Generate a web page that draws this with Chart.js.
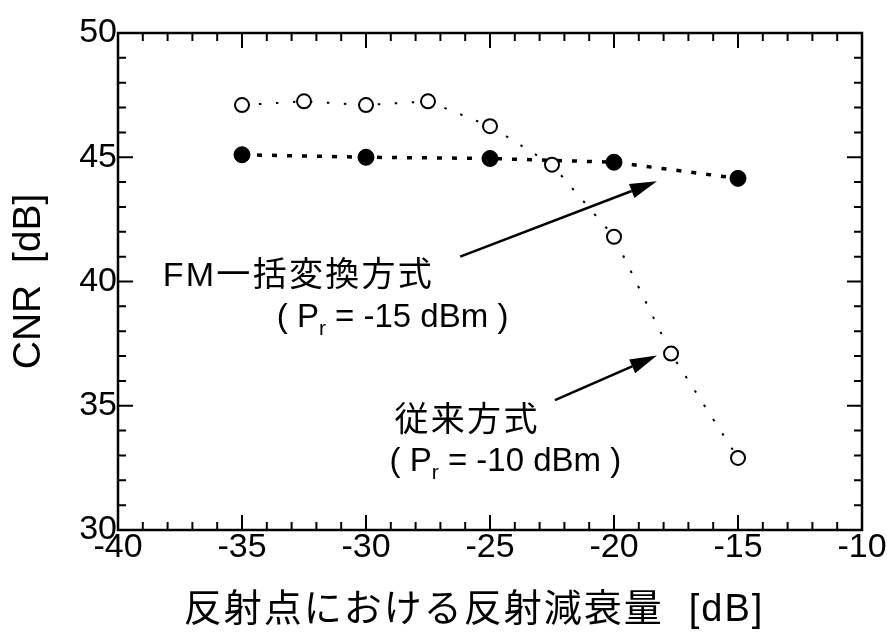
<!DOCTYPE html>
<html>
<head>
<meta charset="utf-8">
<script src="https://cdn.jsdelivr.net/npm/chart.js@4.4.0/dist/chart.umd.min.js"></script>
<style>
  html, body { margin: 0; padding: 0; background: #fff; }
  #wrap { width: 887px; height: 635px; }
</style>
</head>
<body>
<div id="wrap"><canvas id="cnrChart"></canvas></div>
<script>
// Reflection attenuation [dB] vs CNR [dB]
const conventionalX = [-35, -32.5, -30, -27.5, -25, -22.5, -20, -17.7, -15];
const conventionalY = [47.1, 47.25, 47.1, 47.25, 46.25, 44.7, 41.8, 37.1, 32.9];
const fmX = [-35, -30, -25, -20, -15];
const fmY = [45.1, 45.0, 44.95, 44.8, 44.15];
const xTicks = [-40, -35, -30, -25, -20, -15, -10];
const yTicks = [30, 35, 40, 45, 50];
const xTitle = '反射点における反射減衰量  [dB]';
const yTitle = 'CNR  [dB]';

const FONT = '"Liberation Sans", "Noto Sans CJK JP", sans-serif';

// Annotation layout (data coordinates)
const labels = [
  { x: -38.2, y: 39.8, text: 'FM一括変換方式' },
  { x: -33.6, y: 38.15, pre: '( P', sub: 'r', post: ' = -15 dBm )' },
  { x: -28.85, y: 34.0, text: '従来方式' },
  { x: -29.05, y: 32.38, pre: '( P', sub: 'r', post: ' = -10 dBm )' }
];
const arrows = [
  { from: [-26.2, 41.0], to: [-18.27, 44.03] },
  { from: [-22.38, 35.23], to: [-18.27, 37.02] }
];

const toPoints = (xs, ys) => xs.map((x, i) => ({ x: x, y: ys[i] }));

function drawArrow(ctx, x1, y1, x2, y2) {
  const ang = Math.atan2(y2 - y1, x2 - x1);
  const headLen = 27, headHalf = 7.5;
  const bx = x2 - headLen * Math.cos(ang);
  const by = y2 - headLen * Math.sin(ang);
  ctx.beginPath();
  ctx.moveTo(x1, y1);
  ctx.lineTo(bx, by);
  ctx.lineWidth = 2.5;
  ctx.stroke();
  ctx.beginPath();
  ctx.moveTo(x2, y2);
  ctx.lineTo(bx + headHalf * Math.sin(ang), by - headHalf * Math.cos(ang));
  ctx.lineTo(bx - headHalf * Math.sin(ang), by + headHalf * Math.cos(ang));
  ctx.closePath();
  ctx.fill();
}

const framePlugin = {
  id: 'frameAndNotes',
  afterDatasetsDraw(chart) {
    const { ctx, chartArea: a, scales: { x, y } } = chart;
    ctx.save();
    ctx.strokeStyle = '#000';
    ctx.fillStyle = '#000';

    // frame
    ctx.lineWidth = 2.5;
    ctx.strokeRect(a.left, a.top, a.right - a.left, a.bottom - a.top);

    // inward ticks on all four sides
    ctx.lineWidth = 2;
    ctx.beginPath();
    for (let v = x.min; v <= x.max; v++) {
      const px = x.getPixelForValue(v);
      const len = v % 5 === 0 ? 15 : 8;
      ctx.moveTo(px, a.bottom); ctx.lineTo(px, a.bottom - len);
      ctx.moveTo(px, a.top); ctx.lineTo(px, a.top + len);
    }
    for (let v = y.min; v <= y.max; v++) {
      const py = y.getPixelForValue(v);
      const len = v % 5 === 0 ? 15 : 8;
      ctx.moveTo(a.left, py); ctx.lineTo(a.left + len, py);
      ctx.moveTo(a.right, py); ctx.lineTo(a.right - len, py);
    }
    ctx.stroke();

    // x axis title
    ctx.font = '38px ' + FONT;
    ctx.letterSpacing = '2px';
    ctx.textAlign = 'center';
    ctx.textBaseline = 'middle';
    ctx.fillText(xTitle, 474, 611);

    // annotation text
    ctx.textBaseline = 'alphabetic';
    ctx.textAlign = 'left';
    labels.forEach(l => {
      let px = x.getPixelForValue(l.x);
      const py = y.getPixelForValue(l.y);
      if (l.text) {
        ctx.letterSpacing = '2.3px';
        ctx.font = '34px ' + FONT;
        ctx.fillText(l.text, px, py);
        return;
      }
      ctx.letterSpacing = '0px';
      ctx.font = '33px ' + FONT;
      ctx.fillText(l.pre, px, py);
      px += ctx.measureText(l.pre).width;
      ctx.font = '21px ' + FONT;
      ctx.fillText(l.sub, px, py + 8);
      px += ctx.measureText(l.sub).width;
      ctx.font = '33px ' + FONT;
      ctx.fillText(l.post, px, py);
    });
    ctx.letterSpacing = '0px';

    arrows.forEach(ar => {
      drawArrow(ctx,
        x.getPixelForValue(ar.from[0]), y.getPixelForValue(ar.from[1]),
        x.getPixelForValue(ar.to[0]), y.getPixelForValue(ar.to[1]));
    });
    ctx.restore();
  }
};

new Chart(document.getElementById('cnrChart'), {
  type: 'scatter',
  data: {
    datasets: [
      {
        label: '従来方式 (Pr = -10 dBm)',
        data: toPoints(conventionalX, conventionalY),
        showLine: true,
        borderColor: '#000',
        borderWidth: 2,
        borderDash: [2.5, 14.5],
        pointStyle: 'circle',
        pointRadius: 7,
        pointBorderWidth: 2,
        pointBackgroundColor: '#fff',
        pointBorderColor: '#000'
      },
      {
        label: 'FM一括変換方式 (Pr = -15 dBm)',
        data: toPoints(fmX, fmY),
        showLine: true,
        borderColor: '#000',
        borderWidth: 3.5,
        borderDash: [5, 10],
        pointStyle: 'circle',
        pointRadius: 8,
        pointBorderWidth: 1,
        pointBackgroundColor: '#000',
        pointBorderColor: '#000'
      }
    ]
  },
  options: {
    responsive: true,
    maintainAspectRatio: false,
    animation: false,
    layout: { padding: { top: 33, right: 25, left: 0, bottom: 0 } },
    plugins: {
      legend: { display: false },
      tooltip: { enabled: false }
    },
    scales: {
      x: {
        type: 'linear',
        min: -40,
        max: -10,
        afterBuildTicks: s => { s.ticks = xTicks.map(v => ({ value: v })); },
        afterFit: s => { s.height = 105; },
        grid: { display: false, drawTicks: false },
        border: { display: false },
        ticks: {
          color: '#000',
          padding: -3,
          maxRotation: 0,
          font: { family: FONT, size: 34 }
        },
        title: { display: false }
      },
      y: {
        type: 'linear',
        min: 30,
        max: 50,
        afterBuildTicks: s => { s.ticks = yTicks.map(v => ({ value: v })); },
        afterFit: s => { s.width = 118; },
        grid: { display: false, drawTicks: false },
        border: { display: false },
        ticks: {
          color: '#000',
          padding: 1,
          font: { family: FONT, size: 34 }
        },
        title: {
          display: true,
          text: yTitle,
          color: '#000',
          font: { family: FONT, size: 39 },
          padding: { top: 6, bottom: 0 }
        }
      }
    }
  },
  plugins: [framePlugin]
});
</script>
</body>
</html>
